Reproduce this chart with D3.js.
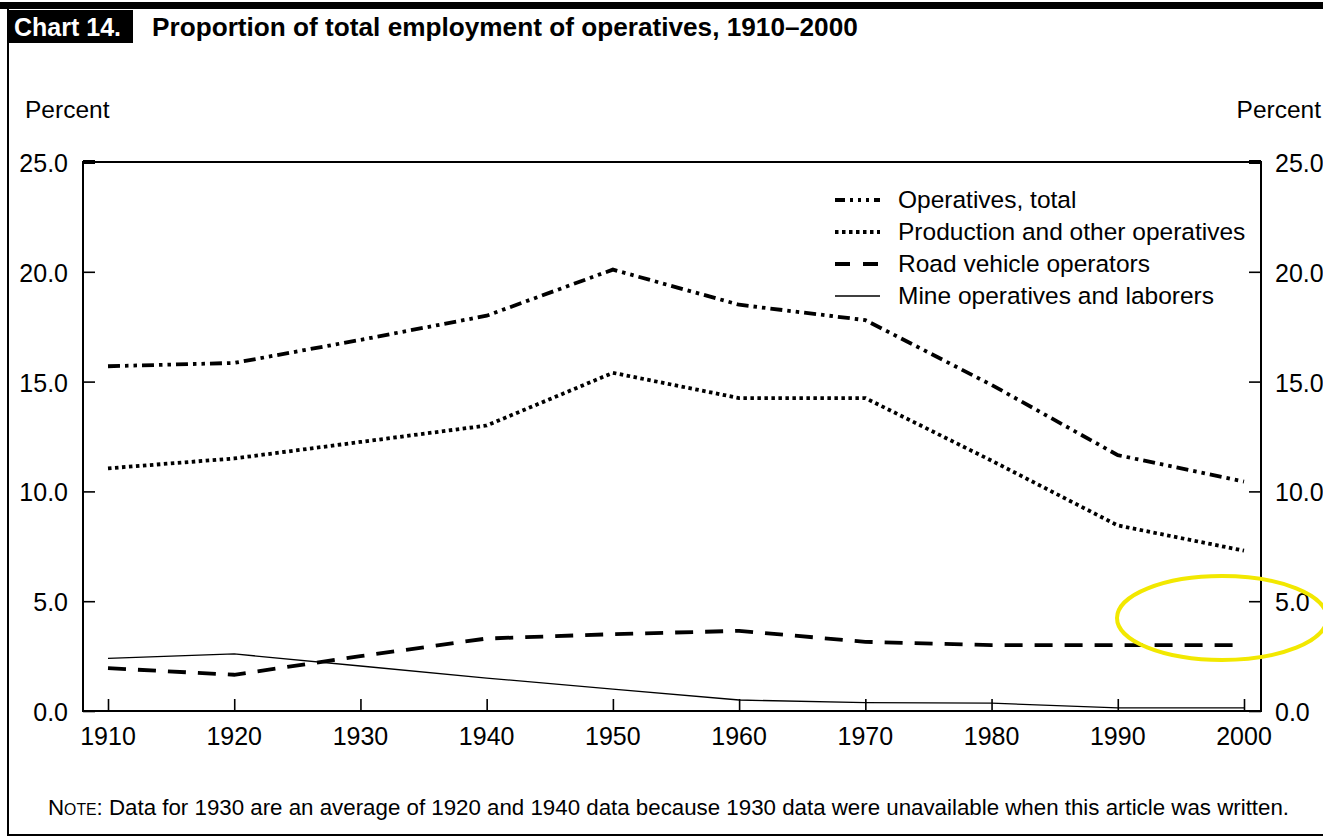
<!DOCTYPE html>
<html><head><meta charset="utf-8">
<script src="https://cdn.jsdelivr.net/npm/d3@7"></script>
<style>
html,body{margin:0;padding:0;background:#fff;}
svg{display:block;font-family:"Liberation Sans",Arial,sans-serif;}
</style></head>
<body>
<svg id="chart" width="1323" height="837"></svg>
<script>
const years = [1910,1920,1930,1940,1950,1960,1970,1980,1990,2000];
const operativesTotal = [15.7,15.85,16.9,18.0,20.1,18.5,17.8,14.85,11.65,10.45];
const productionOther = [11.05,11.5,12.25,13.0,15.4,14.25,14.25,11.4,8.45,7.3];
const roadVehicle = [1.95,1.65,2.5,3.3,3.5,3.65,3.15,3.0,3.0,3.0];
const mineOperatives = [2.4,2.6,2.05,1.5,1.0,0.5,0.38,0.36,0.14,0.14];
const yTicks = [0,5,10,15,20,25];
const seriesNames = ["Operatives, total","Production and other operatives","Road vehicle operators","Mine operatives and laborers"];

const svg = d3.select("#chart");
const L = 83, R = 1261, T = 162, B = 711;
const x = d3.scaleLinear().domain([1910,2000]).range([108,1244]);
const y = d3.scaleLinear().domain([0,25]).range([B,T]);

// frame
svg.append("rect").attr("x",0).attr("y",2).attr("width",1323).attr("height",7).attr("fill","#000");
svg.append("line").attr("x1",8).attr("x2",8).attr("y1",2).attr("y2",836).attr("stroke","#000").attr("stroke-width",2);
svg.append("line").attr("x1",8).attr("x2",1323).attr("y1",835).attr("y2",835).attr("stroke","#000").attr("stroke-width",2);

// title
svg.append("rect").attr("x",9).attr("y",10).attr("width",124).attr("height",33).attr("fill","#000");
svg.append("text").attr("x",14).attr("y",36).attr("fill","#fff").attr("font-weight","bold").attr("font-size",25).text("Chart 14.");
svg.append("text").attr("x",152).attr("y",36).attr("fill","#000").attr("font-weight","bold").attr("font-size",26.2).text("Proportion of total employment of operatives, 1910–2000");

// Percent labels
svg.append("text").attr("x",25).attr("y",118).attr("font-size",24.5).text("Percent");
svg.append("text").attr("x",1321).attr("y",118).attr("font-size",24.5).attr("text-anchor","end").text("Percent");

// plot frame
svg.append("rect").attr("x",L).attr("y",T).attr("width",R-L).attr("height",B-T).attr("fill","none").attr("stroke","#000").attr("stroke-width",2);
svg.append("line").attr("x1",L).attr("x2",L+12).attr("y1",T).attr("y2",T).attr("stroke","#000").attr("stroke-width",4);
svg.append("line").attr("x1",R-12).attr("x2",R).attr("y1",T).attr("y2",T).attr("stroke","#000").attr("stroke-width",4);

// axes
const fmt = d3.format(".1f");
const yl = svg.append("g").attr("transform",`translate(${L},0)`)
  .call(d3.axisRight(y).tickValues(yTicks).tickSize(12).tickFormat(""));
const yr = svg.append("g").attr("transform",`translate(${R},0)`)
  .call(d3.axisLeft(y).tickValues(yTicks).tickSize(12).tickFormat(""));
const xa = svg.append("g").attr("transform",`translate(0,${B})`)
  .call(d3.axisTop(x).tickValues(years).tickSize(12).tickFormat(""));
[yl,yr,xa].forEach(g=>{g.select(".domain").remove();g.selectAll(".tick line").attr("stroke","#000").attr("stroke-width",1.6);});

svg.append("g").selectAll("text").data(yTicks).join("text")
  .attr("x",68).attr("y",d=>y(d)+10).attr("text-anchor","end").attr("font-size",25).text(d=>fmt(d));
svg.append("g").selectAll("text").data(yTicks).join("text")
  .attr("x",1275).attr("y",d=>y(d)+10).attr("text-anchor","start").attr("font-size",25).text(d=>fmt(d));
svg.append("g").selectAll("text").data(years).join("text")
  .attr("x",d=>x(d)).attr("y",745).attr("text-anchor","middle").attr("font-size",25).text(d=>d);

// series
const styles = [
  {dash:"12,5,3.5,5,3.5,5", w:3.8},
  {dash:"3.5,3.5", w:3.8},
  {dash:"18,12", w:3.8},
  {dash:null, w:1.3}
];
const data = [operativesTotal, productionOther, roadVehicle, mineOperatives];
const line = d3.line().x((d,i)=>x(years[i])).y(d=>y(d));
data.forEach((vals,k)=>{
  const p = svg.append("path").datum(vals).attr("d",line).attr("fill","none")
    .attr("stroke","#000").attr("stroke-width",styles[k].w);
  if(styles[k].dash) p.attr("stroke-dasharray",styles[k].dash);
});

// legend
const lg = svg.append("g");
seriesNames.forEach((n,k)=>{
  const yy = 200 + k*32;
  const l = lg.append("line").attr("x1",835).attr("x2",880).attr("y1",yy).attr("y2",yy)
    .attr("stroke","#000").attr("stroke-width",styles[k].w);
  if(k===0) l.attr("stroke-dasharray","10,5,3,5,3,5,3,5");
  else if(k===2) l.attr("stroke-dasharray","15,13");
  else if(styles[k].dash) l.attr("stroke-dasharray",styles[k].dash);
  lg.append("text").attr("x",898).attr("y",yy+8).attr("font-size",24.5).text(n);
});

// note
const note = svg.append("text").attr("x",48).attr("y",815).attr("font-size",22.3);
note.append("tspan").text("N");
note.append("tspan").attr("font-size",15.8).text("OTE");
note.append("tspan").text(":  Data for 1930 are an average of 1920 and 1940 data because 1930 data were unavailable when this article was written.");

// yellow highlight ellipse
svg.append("ellipse").attr("cx",1222).attr("cy",618).attr("rx",105).attr("ry",42)
  .attr("fill","none").attr("stroke","#f2e800").attr("stroke-width",4);
</script>
</body></html>
